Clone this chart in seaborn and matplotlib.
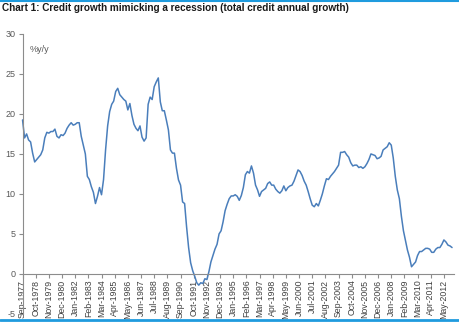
import numpy as np
import pandas as pd
import matplotlib
matplotlib.use("Agg")
import matplotlib.pyplot as plt
from matplotlib.lines import Line2D
import seaborn as sns

# Total credit, annual growth (%y/y), bi-monthly readings from Sep 1977
growth = [
    19.25, 17.0, 17.5, 16.75, 16.5, 15.1, 14.0, 14.3, 14.6, 14.9,
    15.5, 17.0, 17.7, 17.6, 17.8, 17.8, 18.1, 17.2, 17.0, 17.4,
    17.3, 17.6, 18.2, 18.6, 18.9, 18.6, 18.7, 18.9, 18.9, 17.2,
    16.1, 15.0, 12.2, 11.8, 10.9, 10.2, 8.8, 9.7, 10.8, 9.9,
    11.8, 15.5, 18.5, 20.3, 21.2, 21.6, 22.8, 23.2, 22.4, 22.1,
    21.8, 21.6, 20.5, 21.3, 19.8, 18.7, 18.2, 17.9, 18.5, 17.1,
    16.6, 17.0, 21.2, 22.1, 21.8, 23.4, 24.0, 24.5, 21.5, 20.4,
    20.4, 19.25, 18.0, 15.5, 15.1, 15.1, 13.2, 11.75, 11.1, 9.0,
    8.8, 5.9, 3.3, 1.4, 0.4, -0.3, -1.1, -1.4, -1.1, -1.2,
    -0.6, -0.7, 0.3, 1.5, 2.3, 3.1, 3.7, 5.0, 5.4, 6.5,
    7.9, 8.7, 9.4, 9.75, 9.75, 9.9, 9.7, 9.2, 9.8, 10.8,
    12.4, 12.8, 12.6, 13.5, 12.6, 11.1, 10.5, 9.7, 10.3, 10.5,
    10.7, 11.3, 11.5, 11.1, 11.1, 10.6, 10.3, 10.1, 10.4, 11.0,
    10.4, 10.8, 11.0, 11.1, 11.6, 12.3, 13.0, 12.8, 12.3, 11.6,
    11.1, 10.3, 9.4, 8.6, 8.4, 8.8, 8.5, 9.2, 10.0, 11.0,
    11.9, 11.8, 12.2, 12.5, 12.8, 13.2, 13.6, 15.2, 15.2, 15.3,
    14.9, 14.6, 13.9, 13.5, 13.6, 13.6, 13.3, 13.4, 13.2, 13.4,
    13.8, 14.3, 15.0, 14.9, 14.8, 14.4, 14.5, 14.7, 15.5, 15.7,
    15.9, 16.4, 16.1, 14.5, 12.2, 10.5, 9.4, 7.2, 5.4, 4.2,
    3.0, 2.1, 0.9, 1.2, 1.5, 2.3, 2.8, 2.8, 3.0, 3.2,
    3.2, 3.1, 2.7, 2.7, 3.1, 3.3, 3.3, 3.7, 4.25, 4.0,
    3.6, 3.5, 3.3,
]
dates = pd.date_range("1977-09-01", periods=len(growth), freq="2MS")

# Category labels every 13 months, as on the original axis
tick_dates = pd.date_range("1977-09-01", periods=33, freq="13MS")
tick_labels = [d.strftime("%b-%Y") for d in tick_dates]

y_ticks = [-5, 0, 5, 10, 15, 20, 25, 30]

title = "Chart 1: Credit growth mimicking a recession (total credit annual growth)"
unit_label = "%y/y"

df = pd.DataFrame({"date": dates, "growth": growth})

sns.set_theme(style="white")
plt.rcParams["font.family"] = ["Liberation Sans", "DejaVu Sans"]

fig = plt.figure(figsize=(4.6, 3.23), dpi=100)
ax = fig.add_axes([0.049, 0.028, 0.938, 0.867])

sns.lineplot(data=df, x="date", y="growth", ax=ax, color="#4A7EBB", linewidth=1.1)
for ln in ax.lines:
    ln.set_clip_on(False)

ax.set_ylim(-5, 30)
ax.set_xlim(dates[0], pd.Timestamp("2013-03-01"))
ax.set_yticks(y_ticks)
ax.set_yticklabels([str(v) for v in y_ticks])
ax.set_xticks(tick_dates)
ax.set_xticklabels(tick_labels)
ax.set_xlabel("")
ax.set_ylabel("")

grey = "#8C8C8C"
for side in ["top", "right"]:
    ax.spines[side].set_visible(False)
ax.spines["left"].set_color(grey)
ax.spines["left"].set_linewidth(0.8)
ax.spines["bottom"].set_position(("data", 0))
ax.spines["bottom"].set_color(grey)
ax.spines["bottom"].set_linewidth(0.8)

ax.tick_params(axis="y", which="major", direction="out", length=3, width=0.8,
               color=grey, labelsize=6.5, labelcolor="#595959", pad=2, left=True)
ax.tick_params(axis="x", which="major", direction="out", length=3, width=0.8,
               color=grey, labelsize=6.3, labelcolor="#404040", pad=1, bottom=True,
               labelrotation=90)
for lbl in ax.get_xticklabels():
    lbl.set_rotation(90)
    lbl.set_verticalalignment("top")
    lbl.set_horizontalalignment("center")

ax.text(0.017, 0.945, unit_label, transform=ax.transAxes, fontsize=6.5,
        color="#595959", ha="left", va="center")

fig.text(0.005, 0.975, title, fontsize=7.2, fontweight="bold", color="#1A1A1A",
         ha="left", va="center")

# Thin blue rules framing the exhibit
band = "#1F9BDE"
fig.add_artist(Line2D([0, 1], [0.997, 0.997], transform=fig.transFigure, color=band, linewidth=1.5))
fig.add_artist(Line2D([0, 1], [0.008, 0.008], transform=fig.transFigure, color=band, linewidth=2.0))

fig.savefig("out.png", dpi=100, facecolor="white")
